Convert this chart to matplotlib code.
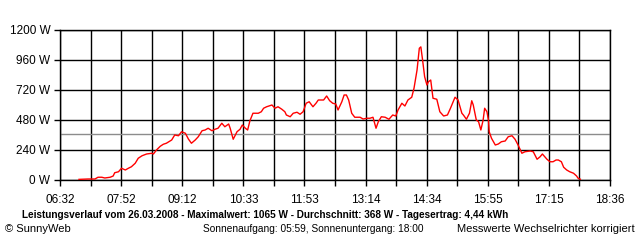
import numpy as np
import matplotlib
matplotlib.use("Agg")
import matplotlib.pyplot as plt

# Leistungsverlauf 26.03.2008 (Zeit, Leistung in W)
times = ["06:57", "07:09", "07:14", "07:18", "07:22", "07:27", "07:31", "07:38", "07:42", "07:44",
         "07:49", "07:53", "07:58", "08:02", "08:06", "08:11", "08:15", "08:20", "08:26", "08:33",
         "08:35", "08:39", "08:44", "08:48", "08:52", "08:59", "09:03", "09:08", "09:12", "09:17",
         "09:21", "09:25", "09:30", "09:34", "09:39", "09:43", "09:47", "09:52", "09:56", "10:00",
         "10:05", "10:09", "10:14", "10:16", "10:20", "10:25", "10:29", "10:32", "10:36", "10:39",
         "10:42", "10:46", "10:53", "10:57", "11:00", "11:04", "11:11", "11:15", "11:19", "11:24",
         "11:28", "11:30", "11:35", "11:39", "11:44", "11:48", "11:52", "11:56", "12:00", "12:05",
         "12:09", "12:12", "12:19", "12:23", "12:27", "12:31", "12:35", "12:38", "12:43", "12:46",
         "12:49", "12:52", "12:56", "13:00", "13:07", "13:11", "13:16", "13:20", "13:24", "13:28",
         "13:31", "13:35", "13:40", "13:45", "13:50", "13:54", "13:57", "14:02", "14:06", "14:10",
         "14:15", "14:18", "14:22", "14:25", "14:27", "14:29", "14:32", "14:35", "14:37", "14:40",
         "14:43", "14:48", "14:52", "14:57", "15:02", "15:06", "15:12", "15:16", "15:21", "15:23",
         "15:27", "15:31", "15:34", "15:36", "15:40", "15:43", "15:46", "15:49", "15:51", "15:54",
         "15:56", "15:57", "16:00", "16:05", "16:09", "16:13", "16:18", "16:22", "16:27", "16:31",
         "16:35", "16:40", "16:44", "16:51", "16:55", "17:00", "17:04", "17:07", "17:13", "17:17",
         "17:21", "17:25", "17:28", "17:32", "17:35", "17:39", "17:43", "17:48", "17:52", "17:54",
         "17:57"]
watts = [5, 8, 8, 8, 22, 22, 16, 22, 32, 58,
         66, 94, 80, 94, 106, 134, 174, 194, 208, 214,
         208, 240, 270, 286, 294, 320, 360, 354, 386, 374,
         328, 294, 320, 346, 394, 400, 414, 394, 406, 414,
         454, 426, 448, 414, 326, 386, 406, 440, 414, 400,
         474, 534, 534, 546, 574, 586, 600, 574, 586, 566,
         546, 520, 506, 534, 542, 526, 546, 614, 626, 586,
         614, 640, 640, 672, 634, 614, 608, 560, 626, 680,
         680, 640, 534, 502, 502, 488, 494, 494, 502, 414,
         466, 506, 502, 486, 520, 512, 560, 614, 592, 640,
         662, 734, 880, 1054, 1065, 974, 826, 760, 786, 800,
         654, 646, 546, 512, 520, 574, 662, 640, 534, 520,
         486, 534, 634, 600, 480, 466, 400, 480, 574, 546,
         480, 386, 334, 280, 288, 306, 312, 346, 354, 326,
         280, 214, 226, 232, 226, 166, 186, 208, 166, 146,
         146, 160, 160, 146, 102, 80, 66, 54, 32, 14,
         6]
average = 368
y_ticks = [0, 240, 480, 720, 960, 1200]
x_labels = ["06:32", "07:52", "09:12", "10:33", "11:53", "13:14", "14:34", "15:55", "17:15", "18:36"]


def to_min(s):
    h, m = s.split(":")
    return int(h) * 60 + int(m)


t = np.array([to_min(s) for s in times])
t0, t1 = to_min(x_labels[0]), to_min(x_labels[-1])

plt.rcParams["font.family"] = ["Liberation Sans", "DejaVu Sans"]

fig = plt.figure(figsize=(6.4, 2.4), dpi=100)
ax = fig.add_axes([60 / 640, 60 / 240, 550 / 640, 150 / 240])

ax.axhline(average, color="#8c8c8c", lw=1.0, zorder=2)
ax.plot(t, watts, color="#ff0000", lw=1.0, zorder=3)

ax.set_xlim(t0, t1)
ax.set_ylim(0, 1200)
xt = np.linspace(t0, t1, 19)
ax.set_xticks(xt)
ax.set_xticklabels([x_labels[i // 2] if i % 2 == 0 else "" for i in range(19)])
ax.set_yticks(y_ticks)
ax.set_yticklabels([f"{v} W" for v in y_ticks])
ax.grid(True, color="black", lw=1.0, zorder=1)
for s in ax.spines.values():
    s.set_color("black")
    s.set_linewidth(1.0)
ax.tick_params(direction="out", length=4, width=1.0, colors="black", labelsize=8.5, pad=3)
ax.tick_params(axis="x", pad=6)


def fit_text(txt, width_px):
    # shrink font until the text fits the width seen in the original
    fig.canvas.draw()
    w = txt.get_window_extent().width
    txt.set_fontsize(txt.get_fontsize() * width_px / w)


title = fig.text(265 / 640, 1 - 215 / 240, "Leistungsverlauf vom 26.03.2008 - Maximalwert: 1065 W - "
                 "Durchschnitt: 368 W - Tagesertrag: 4,44 kWh",
                 ha="center", va="center", fontsize=8.5, fontweight="bold")
fit_text(title, 486)
fig.text(5 / 640, 1 - 229 / 240, "© SunnyWeb", ha="left", va="center", fontsize=8)
sun = fig.text(313 / 640, 1 - 229 / 240, "Sonnenaufgang: 05:59, Sonnenuntergang: 18:00",
               ha="center", va="center", fontsize=8)
fit_text(sun, 222)
fig.text(635 / 640, 1 - 229 / 240, "Messwerte Wechselrichter korrigiert",
         ha="right", va="center", fontsize=8)

fig.savefig("out.png", dpi=100)
